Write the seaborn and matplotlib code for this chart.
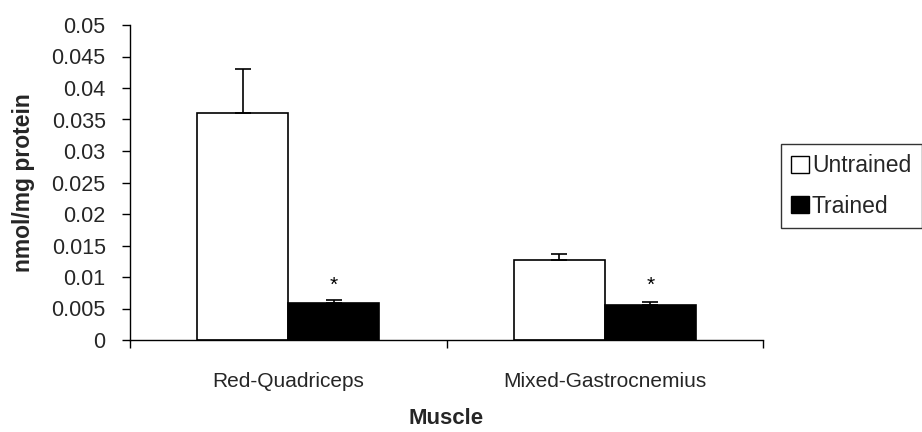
import matplotlib
matplotlib.use("Agg")
import matplotlib.pyplot as plt
import seaborn as sns
import pandas as pd
import numpy as np
from matplotlib.patches import Patch

muscles = ["Red-Quadriceps", "Mixed-Gastrocnemius"]
groups = ["Untrained", "Trained"]
untrained = [0.036, 0.0127]
trained = [0.0058, 0.0056]
untrained_err = [0.007, 0.0010]
trained_err = [0.0006, 0.0005]
yticks = [0, 0.005, 0.01, 0.015, 0.02, 0.025, 0.03, 0.035, 0.04, 0.045, 0.05]
ytick_labels = ["0", "0.005", "0.01", "0.015", "0.02", "0.025", "0.03", "0.035", "0.04", "0.045", "0.05"]

df = pd.DataFrame({
    "Muscle": muscles * 2,
    "Group": [groups[0]] * 2 + [groups[1]] * 2,
    "Value": untrained + trained,
    "Err": untrained_err + trained_err,
})

sns.set_style("white")
plt.rcParams["font.family"] = ["Liberation Sans", "DejaVu Sans"]

fig = plt.figure(figsize=(9.22, 4.32), dpi=100)
ax = fig.add_axes([130 / 922, 1 - 340 / 432, (763 - 130) / 922, (340 - 25) / 432])

sns.barplot(data=df, x="Muscle", y="Value", hue="Group", order=muscles, hue_order=groups,
            palette={"Untrained": "white", "Trained": "black"}, edgecolor="black",
            linewidth=1.2, width=0.576, errorbar=None, legend=False, ax=ax, zorder=2)

# error bars (upper only) and asterisks
for cont, errs, grp in zip(ax.containers, [untrained_err, trained_err], groups):
    for bar, e in zip(cont, errs):
        xc = bar.get_x() + bar.get_width() / 2
        h = bar.get_height()
        ax.errorbar(xc, h, yerr=[[0], [e]], fmt="none", ecolor="black",
                    elinewidth=1.2, capsize=5.5, capthick=1.2, zorder=3)
        if grp == "Trained":
            ax.text(xc, 0.0087, "*", ha="center", va="center", fontsize=15, color="black")

ax.set_xlim(-0.5, 1.5)
ax.set_ylim(0, 0.05)
ax.set_yticks(yticks)
ax.set_yticklabels(ytick_labels, fontsize=15.5)
ax.tick_params(axis="y", direction="out", length=5.5, width=1, color="black", left=True, pad=12)

ax.set_xticks([-0.5, 0.5, 1.5])
ax.set_xticklabels([])
ax.tick_params(axis="x", which="major", direction="out", length=5.5, width=1, color="black", bottom=True)
ax.set_xticks([0, 1], minor=True)
ax.set_xticklabels(muscles, minor=True, fontsize=15)
ax.tick_params(axis="x", which="minor", length=0, pad=23)

for s in ["top", "right"]:
    ax.spines[s].set_visible(False)
for s in ["left", "bottom"]:
    ax.spines[s].set_color("black")
    ax.spines[s].set_linewidth(1)

ax.set_xlabel("Muscle", fontsize=16, fontweight="bold", labelpad=12)
ax.set_ylabel("nmol/mg protein", fontsize=16.5, fontweight="bold", labelpad=12)

handles = [Patch(facecolor="white", edgecolor="black", label="Untrained"),
           Patch(facecolor="black", edgecolor="black", label="Trained")]
leg = fig.legend(handles=handles, loc="center left", bbox_to_anchor=(781 / 922, 1 - 186 / 432),
                 fontsize=16.5, frameon=True, fancybox=False, handlelength=0.75, handleheight=0.75,
                 handletextpad=0.15, borderpad=0.45, labelspacing=0.75, borderaxespad=0)
leg.get_frame().set_edgecolor("black")
leg.get_frame().set_linewidth(1)

fig.savefig("out.png", dpi=100)
